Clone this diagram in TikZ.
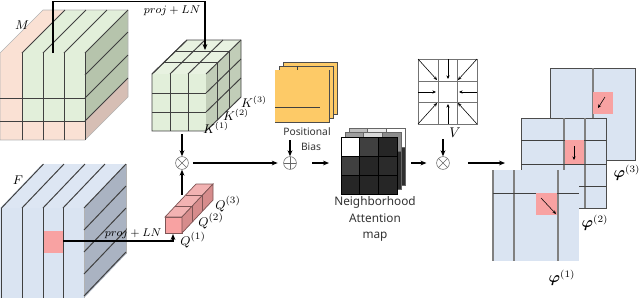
\documentclass[tikz,border=0pt]{standalone}
\usepackage{amsmath,amssymb}
\usepackage{fontspec}
\setsansfont{Noto Sans}
\usepackage{tikz}
\usetikzlibrary{arrows.meta,positioning}
\usepackage{xcolor}
\definecolor{mpink}{RGB}{250,225,212}
\definecolor{mpinkside}{RGB}{214,190,180}
\definecolor{mgreen}{RGB}{226,239,218}
\definecolor{mgreenside}{RGB}{182,196,172}
\definecolor{fblue}{RGB}{218,228,242}
\definecolor{fside}{RGB}{170,179,194}
\definecolor{qpink}{RGB}{248,162,162}
\definecolor{qtop}{RGB}{242,178,178}
\definecolor{qside}{RGB}{214,140,140}
\definecolor{qedge}{RGB}{125,85,85}
\definecolor{biasorange}{RGB}{253,202,103}
\newcommand{\projln}{$proj + LN$}
\newcommand{\phiq}[1]{$\boldsymbol{\varphi}^{(#1)}$}
\tikzset{
  gline/.style  ={draw=black!75, line width=0.7pt},
  ledge/.style  ={draw=black!30, line width=0.4pt},
  phiv/.style   ={draw=black!50, line width=1.1pt},
  arr/.style    ={-{Stealth[length=1.5mm, width=1.2mm]}, line width=0.8pt},
  smarr/.style  ={-{Stealth[length=0.9mm, width=0.8mm]}, line width=0.4pt},
  mulop/.style  ={draw=black!60, circle, minimum size=3.2mm, inner sep=0pt,
                  line width=0.4pt, path picture={
                  \draw[black!60, line width=0.4pt]
                  (path picture bounding box.north west) -- (path picture bounding box.south east)
                  (path picture bounding box.north east) -- (path picture bounding box.south west);}},
  addop/.style  ={draw=black!60, circle, minimum size=3.2mm, inner sep=0pt,
                  line width=0.4pt, path picture={
                  \draw[black!60, line width=0.4pt]
                  (path picture bounding box.north) -- (path picture bounding box.south)
                  (path picture bounding box.east) -- (path picture bounding box.west);}},
  mlbl/.style   ={font=\fontsize{9.5}{11}\selectfont, inner sep=0pt},
  klbl/.style   ={font=\fontsize{8.8}{10}\selectfont, inner sep=0pt},
  plbl/.style   ={font=\fontsize{7.6}{9}\selectfont, inner sep=0pt},
  capt/.style   ={font=\sffamily\fontsize{8.4}{12}\selectfont, text=black!80,
                  align=center, inner sep=0pt},
  smcapt/.style ={font=\sffamily\fontsize{7.3}{9}\selectfont, text=black!80,
                  inner sep=0pt},
}

\begin{document}
\begin{tikzpicture}[x=0.025cm, y=-0.025cm, >=Stealth]
\useasboundingbox (0,0) rectangle (640,298);

% memory cube M
\fill[mpink] (0,53) rectangle (85,140);
\fill[mgreen] (22,53) rectangle (85,121);
\fill[mpink] (0,53) -- (22,53) -- (65,10) -- (43,10) -- cycle;
\fill[mgreen] (22,53) -- (85,53) -- (128,10) -- (65,10) -- cycle;
\fill[mgreenside] (85,53) -- (128,10) -- (128,78) -- (85,121) -- cycle;
\fill[mpinkside] (85,121) -- (128,78) -- (128,97) -- (85,140) -- cycle;
\draw[ledge] (0,53) -- (0,140) -- (85,140) -- (128,97) -- (128,10) -- (43,10) -- cycle;
\foreach \x in {22,43,64,85} {
  \draw[gline] (\x,53) -- (\x,140);
  \draw[gline] (\x,53) -- ++(43,-43);
}
\foreach \y in {98,121} \draw[gline] (0,\y) -- (85,\y);
\foreach \y in {75,98,121} \draw[gline] (85,\y) -- ++(43,-43);
\node[mlbl] (mlab) at (22,25) {$M$};

% feature cube F
\fill[fblue] (0,208) rectangle (84,298);
\fill[fblue!92!white] (0,208) -- (84,208) -- (126,164) -- (42,164) -- cycle;
\fill[fside] (84,208) -- (126,164) -- (126,254) -- (84,298) -- cycle;
\fill[qpink] (43,231) rectangle (63,253);
\draw[ledge] (84,208) -- (84,298) (126,164) -- (126,254);
\foreach \x in {1.5,22,43,63} \draw[gline] (\x,208) -- (\x,298);
\foreach \x in {1.5,22,43,63,84} \draw[gline] (\x,208) -- ++(42,-44);
\foreach \y in {230,252,274,296} \draw[gline] (84,\y) -- ++(42,-44);
\node[mlbl] (flab) at (18,180) {$F$};

% key cube K
\fill[mgreen] (152,74) rectangle (206,131);
\fill[mgreen!80!white] (152,74) -- (206,74) -- (241,40) -- (187,40) -- cycle;
\fill[mgreenside!85!white] (206,74) -- (241,40) -- (241,97) -- (206,131) -- cycle;
\foreach \k in {1,2} {
  \draw[gline] (152+18*\k,74) -- ++(0,57);
  \draw[gline] (152,74+19*\k) -- ++(54,0);
  \draw[gline] (152+11.67*\k,74-11.33*\k) -- ++(54,0);
  \draw[gline] (206+11.67*\k,74-11.33*\k) -- ++(0,57);
  \draw[gline] (206,74+19*\k) -- ++(35,-34);
}
\foreach \k in {0,1,2,3} \draw[gline] (152+18*\k,74) -- ++(35,-34);
\draw[gline] (152,74) -- (152,131) -- (206,131) -- (241,97) -- (241,40) -- (187,40) -- cycle;
\node[klbl] (k1) at (216,128) {$K^{(1)}$};
\node[klbl] (k2) at (236,115) {$K^{(2)}$};
\node[klbl] (k3) at (254,102) {$K^{(3)}$};

% query bar Q
\filldraw[fill=qpink, draw=qedge, line width=0.5pt] (165,217) rectangle (182,233);
\filldraw[fill=qtop, draw=qedge, line width=0.5pt] (165,217) -- (182,217) -- (213,184) -- (196,184) -- cycle;
\filldraw[fill=qside, draw=qedge, line width=0.5pt] (182,217) -- (213,184) -- (213,200) -- (182,233) -- cycle;
\foreach \k in {1,2} {
  \draw[qedge, line width=0.6pt] (165+10.33*\k,217-11*\k) -- ++(17,0);
  \draw[qedge, line width=0.6pt] (182+10.33*\k,217-11*\k) -- ++(0,16);
}
\node[mlbl] (q1) at (193,240) {$Q^{(1)}$};
\node[mlbl] (q2) at (211,221) {$Q^{(2)}$};
\node[mlbl] (q3) at (228,204) {$Q^{(3)}$};

% projections
\coordinate (mproj) at (53,53);
\coordinate (kin) at (205,50);
\draw[arr] (mproj) -- ++(0,-51.5) -| (kin);
\node[plbl] (projm) at (172,11) {\projln};
\coordinate (fq) at (63,241);
\coordinate (qin) at (173,234);
\draw[arr] (fq) -| (qin);
\node[plbl] (projf) at (133,234) {\projln};

% K x Q
\node[mulop] (mul1) at (182,163) {};
\coordinate (kout) at (182,134);
\coordinate (qout) at (182,195);
\draw[arr] (kout) -- (mul1);
\draw[arr] (qout) -- (mul1);

% positional bias
\foreach \s in {2,1,0}
  \filldraw[fill=biasorange, draw=black!70, line width=0.5pt] (275+4*\s,70-4*\s) rectangle ++(54,52);
\fill[biasorange] (275.3,70.3) rectangle (328.7,121.7);
\draw[black!75, line width=0.6pt] (275,107) -- (320,107);
\draw[black!75, line width=0.6pt] (297,66) -- (297,70);
\node[smcapt] (posb) at (307,132) {Positional};
\node[smcapt] (bias) at (311,147) {Bias};
\node[addop] (plus) at (290,163) {};
\coordinate (posout) at (290,140);
\draw[arr] (posout) -- (plus);
\draw[arr, shorten <=3pt, shorten >=4pt] (mul1) -- (plus);

% neighborhood attention map
\foreach \s/\ca/\cb/\cc in {2/black!25/black!8/white, 1/black!38/black!15/black!45} {
  \filldraw[fill=black!82, draw=black!60, line width=0.5pt] (341+4*\s,137-4.5*\s) rectangle ++(56,57);
  \foreach \c [count=\k from 0] in {\ca,\cb,\cc}
    \filldraw[fill=\c, draw=black!60, line width=0.5pt] (341+4*\s+18.67*\k,137-4.5*\s) rectangle ++(18.67,19);
}
\foreach \c [count=\n from 0] in {white,black!75,black!85,black!75,black!85,black!83,black!85,black!85,black!85} {
  \pgfmathsetmacro\cc{mod(\n,3)}
  \pgfmathsetmacro\rr{floor(\n/3)}
  \filldraw[fill=\c, draw=black, line width=0.6pt] (341+18.67*\cc,137+19*\rr) rectangle ++(18.67,19);
}
\node[capt] (attlab) at (375,219) {Neighborhood\\Attention\\map};
\coordinate (attin) at (329,163);
\coordinate (attout) at (411,163);
\draw[arr, shorten <=11pt] (plus) -- (attin);

% value V
\draw[black!55, line width=0.5pt] (418,59) rectangle (477,124);
\foreach \x in {438,457} \draw[black!55, line width=0.5pt] (\x,59) -- (\x,124);
\foreach \y in {81,102} \draw[black!55, line width=0.5pt] (418,\y) -- (477,\y);
\draw[smarr] (418,59) -- (437,80);
\draw[smarr] (477,59) -- (458,80);
\draw[smarr] (418,124) -- (437,103);
\draw[smarr] (477,124) -- (458,103);
\draw[smarr] (448,59) -- (448,79);
\draw[smarr] (448,124) -- (448,104);
\draw[smarr] (418,92) -- (436,92);
\draw[smarr] (477,92) -- (459,92);
\node[mlbl, font=\fontsize{10}{11}\selectfont] (vlab) at (455,133) {$V$};
\node[mulop] (mul2) at (443,163) {};
\coordinate (vout) at (443,139);
\draw[arr] (vout) -- (mul2);
\draw[arr, shorten >=7pt] (attout) -- (mul2);
\coordinate (phin) at (505,163);
\draw[arr, shorten <=13pt] (mul2) -- (phin);

% output phi
\filldraw[fill=fblue, draw=black!70, line width=0.5pt] (550,68) rectangle (635,160);
\draw[phiv] (593,68) -- (593,160);
\fill[qpink] (593,92) rectangle (613,114);
\draw[smarr] (605,97) -- (598,108);
\filldraw[fill=fblue, draw=black!70, line width=0.5pt] (521,118) rectangle (606,208);
\foreach \x in {564,585} \draw[phiv] (\x,118) -- (\x,208);
\foreach \y in {140,164,186} \draw[gline] (521,\y) -- (606,\y);
\fill[qpink] (564.6,140.4) rectangle (584.4,163.6);
\draw[smarr] (574,146) -- (574,160);
\fill[fblue] (493,170) rectangle (579,261);
\foreach \x in {493,514,558} \draw[phiv] (\x,170) -- (\x,261);
\draw[gline] (493,193) -- (579,193);
\fill[qpink] (536,193.4) rectangle (557.4,215);
\draw[smarr] (541,198) -- (556,214);
\node[mlbl, font=\fontsize{10.5}{12}\selectfont] (phi3) at (627,173) {\phiq{3}};
\node[mlbl, font=\fontsize{10.5}{12}\selectfont] (phi2) at (595,223) {\phiq{2}};
\node[mlbl, font=\fontsize{10.5}{12}\selectfont] (phi1) at (562,278) {\phiq{1}};
\end{tikzpicture}
\end{document}
